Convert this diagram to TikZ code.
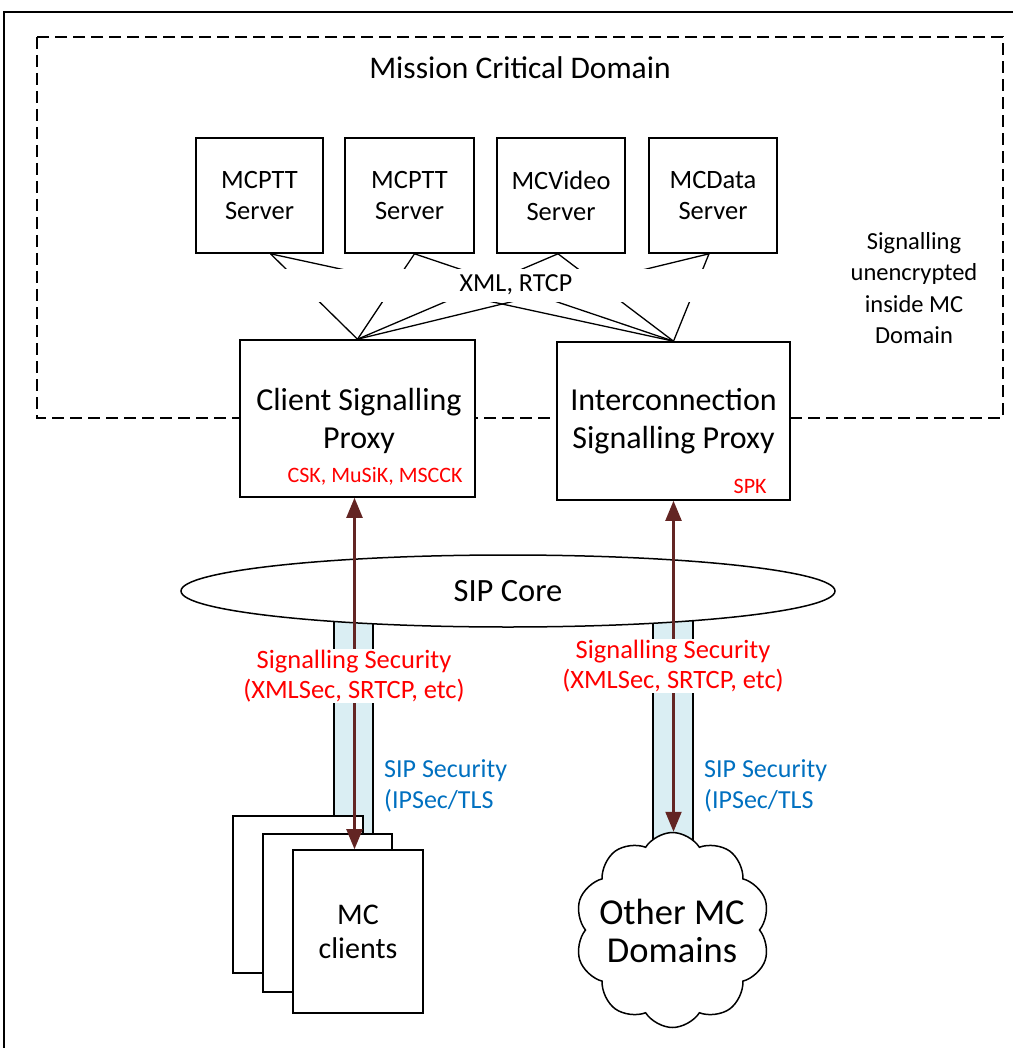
\documentclass[tikz,border=0pt]{standalone}
\usepackage{fontspec}
\setmainfont{Carlito}
\usetikzlibrary{shapes.geometric,shapes.symbols,arrows.meta,calc}
\definecolor{arrowbrown}{HTML}{632523}
\definecolor{pipeblue}{HTML}{DAEEF3}
\definecolor{sigred}{HTML}{FF0000}
\definecolor{sipblue}{HTML}{0070C0}
\newcommand{\fsz}[2]{\fontsize{#1}{#2}\selectfont}
\begin{document}
\begin{tikzpicture}[x=1pt,y=-1pt,
  box/.style={draw, fill=white, line width=1.6pt, align=center, inner sep=0pt},
  conn/.style={line width=1.3pt},
  arr/.style={draw=arrowbrown, line width=2.2pt, {Triangle[length=20pt,width=16pt]}-{Triangle[length=20pt,width=16pt]}},
  redlbl/.style={text=sigred, align=center, fill=white, inner sep=1pt, font=\fsz{26.5}{30.5}},
  bluelbl/.style={text=sipblue, align=left, anchor=west, inner sep=0pt, font=\fsz{26}{31}},
  ]
\useasboundingbox (0,0) rectangle (1013,1048);
% outer frame
\draw[line width=1.3pt] (4,1048) -- (4,12) -- (1013,12);
% mission critical domain
\draw[line width=1.5pt, dash pattern=on 12pt off 6pt] (37,37) rectangle (1003,418);
\node[inner sep=0pt, font=\fsz{31.5}{36}] (mcd) at (520,68) {Mission Critical Domain};
\node[align=center, inner sep=0pt, font=\fsz{24.5}{31.3}] (unenc) at (914,288) {Signalling\\unencrypted\\inside MC\\Domain};
% servers
\node[box, minimum width=127pt, minimum height=115pt, font=\fsz{26.5}{31}] (s1) at (259.5,195.5) {MCPTT\\Server};
\node[box, minimum width=129pt, minimum height=115pt, font=\fsz{26.5}{31}] (s2) at (409.5,195.5) {MCPTT\\Server};
\node[box, minimum width=128pt, minimum height=115pt, font=\fsz{26.5}{31}] (s3) at (561,195.5) {MCVideo\\Server};
\node[box, minimum width=128pt, minimum height=115pt, font=\fsz{26.5}{31}] (s4) at (713,195.5) {MCData\\Server};
% proxies
\node[box, minimum width=235pt, minimum height=157pt] (cp) at (357.5,418.5) {};
\node[align=center, inner sep=0pt, font=\fsz{32}{38}] (cptxt) at (359,421) {Client Signalling\\Proxy};
\node[box, minimum width=233pt, minimum height=158pt] (ip) at (673.5,421) {};
\node[align=center, inner sep=0pt, font=\fsz{32}{38}] (iptxt) at (673.5,421) {Interconnection\\Signalling Proxy};
\node[text=sigred, font=\fsz{22}{26}, anchor=east, inner sep=0pt] (cpk) at ($(cp.south east)+(-13,-21)$) {CSK, MuSiK, MSCCK};
\node[text=sigred, font=\fsz{22}{26}, anchor=east, inner sep=0pt] (ipk) at ($(ip.south east)+(-24,-14)$) {SPK};
% connectors
\foreach \s/\dx in {s1/11, s2/5, s3/-3, s4/-4}{
  \draw[conn] ($(\s.south)+(\dx,0)$) -- (cp.north);
  \draw[conn] ($(\s.south)+(\dx,0)$) -- (ip.north);
}
\node[fill=white, minimum width=440pt, minimum height=33pt, inner sep=0pt] (xmlband) at (495,285.5) {};
\node[inner sep=0pt, font=\fsz{26}{31}] (xml) at (516,285) {XML, RTCP};
% pipes
\node[draw, fill=pipeblue, line width=1.5pt, minimum width=39pt, minimum height=234pt, inner sep=0pt] (lp) at (353.5,717) {};
\node[draw, fill=pipeblue, line width=1.5pt, minimum width=40pt, minimum height=245pt, inner sep=0pt] (rp) at (673,722.5) {};
% SIP core
\node[ellipse, draw, fill=white, line width=1.5pt, minimum width=654pt, minimum height=72pt, inner sep=0pt, font=\fsz{32.5}{36}] (sip) at (508,591) {SIP Core};
% MC clients
\node[box, minimum width=130pt, minimum height=157pt] (c1) at (298,894.5) {};
\node[box, minimum width=129pt, minimum height=158pt] (c2) at (327.5,913) {};
\node[box, minimum width=130pt, minimum height=163pt, font=\fsz{30}{34}] (c3) at (358,931.5) {MC\\clients};
% other domains
\node[cloud, draw, fill=white, line width=1.5pt, cloud puffs=10, cloud puff arc=115, aspect=1, minimum width=195pt, minimum height=195pt, inner sep=0pt] (oth) at (672.5,930) {};
\node[align=center, inner sep=0pt, font=\fsz{36.5}{38}] (othtxt) at (672,931) {Other MC\\Domains};
% arrows
\draw[arr] ($(cp.south)+(-3,0)$) -- ($(cp.south |- c3.north)+(-3,0)$);
\draw[arr] (ip.south) -- (ip.south |- oth.north);
% labels
\node[redlbl] (ssl) at (354,676) {Signalling Security\\(XMLSec, SRTCP, etc)};
\node[redlbl] (ssr) at (673,666) {Signalling Security\\(XMLSec, SRTCP, etc)};
\node[bluelbl] (sipl) at (384,785.5) {SIP Security\\(IPSec/TLS};
\node[bluelbl] (sipr) at (704,785.5) {SIP Security\\(IPSec/TLS};
\end{tikzpicture}
\end{document}
